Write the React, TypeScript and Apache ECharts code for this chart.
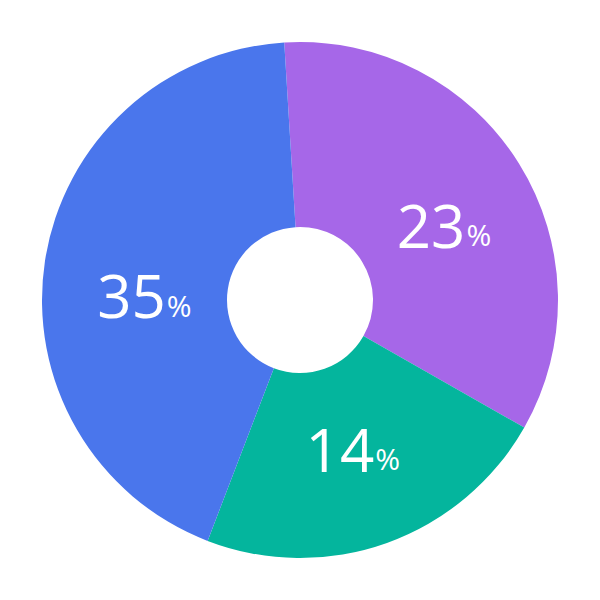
import React, { useEffect, useRef } from "react";
import * as echarts from "echarts";

// Slice names and colours
const categories = ["Purple", "Green", "Blue"];
const colors = ["#a667e8", "#04b59d", "#4a76ec"];
// Angular share of each slice as drawn (percent of full circle)
const sliceShares = [34.2, 22.6, 43.2];
// Percent figures printed on the slices
const labelPercents = [23, 14, 35];
// Fine label nudges (px) per slice
const labelDx = [1, -4, 11];
const labelDy = [14, -10, 21];

export default function App() {
  const ref = useRef<HTMLDivElement>(null);
  useEffect(() => {
    document.body.style.margin = "0";
    if (!ref.current) return;
    const chart = echarts.init(ref.current, undefined, { renderer: "svg" });
    chart.setOption({
      animation: false,
      backgroundColor: "#ffffff",
      series: [
        {
          type: "pie",
          center: ["50%", "50%"],
          radius: [73, 258],
          startAngle: 93.5,
          clockwise: true,
          silent: true,
          label: {
            show: true,
            position: "inside",
            formatter: (p: any) => `{v|${labelPercents[p.dataIndex]}}{p|%}`,
            rich: {
              v: {
                color: "#ffffff",
                fontFamily: "Open Sans",
                fontSize: 60,
                fontWeight: 500,
                lineHeight: 60,
                verticalAlign: "bottom",
              },
              p: {
                color: "#ffffff",
                fontFamily: "Open Sans",
                fontSize: 30,
                fontWeight: 500,
                lineHeight: 30,
                verticalAlign: "bottom",
                padding: [0, 0, 5, 1],
              },
            },
          },
          labelLine: { show: false },
          labelLayout: (params: any) => ({
            dx: labelDx[params.dataIndex],
            dy: labelDy[params.dataIndex],
          }),
          itemStyle: { borderWidth: 0 },
          data: categories.map((name, i) => ({
            name,
            value: sliceShares[i],
            itemStyle: { color: colors[i] },
          })),
        },
      ],
    });
    return () => chart.dispose();
  }, []);
  return <div ref={ref} style={{ width: 600, height: 600 }} />;
}
